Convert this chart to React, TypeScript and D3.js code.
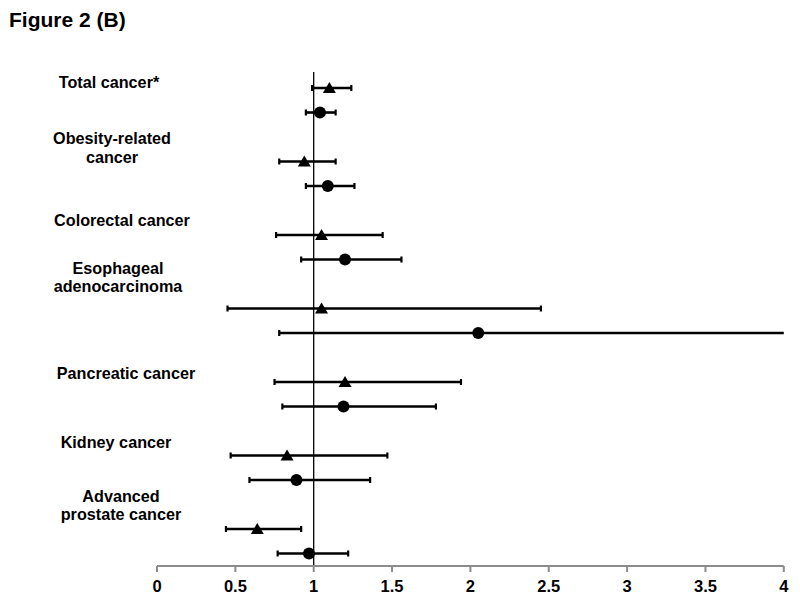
import React from "react";
import * as d3 from "d3";

// ---- data ----
const categories = [
  "Total cancer*",
  "Obesity-related cancer",
  "Colorectal cancer",
  "Esophageal adenocarcinoma",
  "Pancreatic cancer",
  "Kidney cancer",
  "Advanced prostate cancer",
];
const categoryLines = [
  ["Total cancer*"],
  ["Obesity-related", "cancer"],
  ["Colorectal cancer"],
  ["Esophageal", "adenocarcinoma"],
  ["Pancreatic cancer"],
  ["Kidney cancer"],
  ["Advanced", "prostate cancer"],
];
// triangle series
const triEst = [1.1, 0.94, 1.05, 1.05, 1.2, 0.83, 0.64];
const triLow = [0.99, 0.78, 0.76, 0.45, 0.75, 0.47, 0.44];
const triHigh = [1.24, 1.14, 1.44, 2.45, 1.94, 1.47, 0.92];
// circle series
const cirEst = [1.04, 1.09, 1.2, 2.05, 1.19, 0.89, 0.97];
const cirLow = [0.95, 0.95, 0.92, 0.78, 0.8, 0.59, 0.77];
const cirHigh = [1.14, 1.26, 1.56, 5.4, 1.78, 1.36, 1.22];

const xTicks = [0, 0.5, 1, 1.5, 2, 2.5, 3, 3.5, 4];
const xTickLabels = ["0", "0.5", "1", "1.5", "2", "2.5", "3", "3.5", "4"];
const title = "Figure 2 (B)";

// ---- layout (label placement relative to group's first row) ----
const labelCenterX = [109, 112, 122, 118, 126, 116, 121];
const labelFirstOffset = [-0.5, -17.5, -9, -35, -3, -8, -27.5];
const lineGap = 18.8;

export default function App() {
  const W = 800;
  const H = 601;
  const x = d3.scaleLinear().domain([0, 4]).range([157, 783.8]);
  const y = d3.scaleLinear().domain([0, 19]).range([88, 553.5]);
  const axisY = 566;
  const refTop = 72;
  const font = "'Liberation Sans', Arial, sans-serif";

  type Row = { est: number; lo: number; hi: number; shape: "tri" | "cir"; yi: number };
  const rows: Row[] = [];
  categories.forEach((_, i) => {
    rows.push({ est: triEst[i], lo: triLow[i], hi: triHigh[i], shape: "tri", yi: i * 3 });
    rows.push({ est: cirEst[i], lo: cirLow[i], hi: cirHigh[i], shape: "cir", yi: i * 3 + 1 });
  });

  const [d0, d1] = x.domain();
  const clamp = (v: number) => Math.max(d0, Math.min(d1, v));

  return (
    <svg
      width={W}
      height={H}
      style={{ position: "absolute", left: 0, top: 0, background: "#fff" }}
      fontFamily={font}
    >
      <rect width={W} height={H} fill="#fff" />
      <text x={9} y={27} fontSize={21} fontWeight="bold" fill="#000">
        {title}
      </text>

      {/* category labels */}
      {categoryLines.map((lines, i) => (
        <text
          key={i}
          textAnchor="middle"
          fontSize={16.2}
          fontWeight="bold"
          fill="#000"
        >
          {lines.map((ln, j) => (
            <tspan key={j} x={labelCenterX[i]} y={y(i * 3) + labelFirstOffset[i] + j * lineGap}>
              {ln}
            </tspan>
          ))}
        </text>
      ))}

      {/* reference line at 1 */}
      <line x1={x(1)} x2={x(1)} y1={refTop} y2={axisY} stroke="#000" strokeWidth={1.3} />

      {/* error bars & markers */}
      {rows.map((r, i) => {
        const yy = y(r.yi);
        const xl = x(clamp(r.lo));
        const xh = x(clamp(r.hi));
        const xe = x(r.est);
        return (
          <g key={i}>
            <line x1={xl} x2={xh} y1={yy} y2={yy} stroke="#000" strokeWidth={2.6} />
            {r.lo >= d0 && (
              <line x1={xl} x2={xl} y1={yy - 3} y2={yy + 3} stroke="#000" strokeWidth={2.2} />
            )}
            {r.hi <= d1 && (
              <line x1={xh} x2={xh} y1={yy - 3} y2={yy + 3} stroke="#000" strokeWidth={2.2} />
            )}
            {r.shape === "cir" ? (
              <circle cx={xe} cy={yy} r={6} fill="#000" />
            ) : (
              <path
                d={`M${xe},${yy - 6} L${xe + 6.5},${yy + 5} L${xe - 6.5},${yy + 5} Z`}
                fill="#000"
              />
            )}
          </g>
        );
      })}

      {/* x axis */}
      <line x1={x(0)} x2={x(4)} y1={axisY} y2={axisY} stroke="#8c8c8c" strokeWidth={2} />
      {xTicks.map((t, i) => (
        <g key={i}>
          <line x1={x(t)} x2={x(t)} y1={axisY} y2={axisY + 6} stroke="#8c8c8c" strokeWidth={2} />
          <text
            x={x(t)}
            y={axisY + 26}
            textAnchor="middle"
            fontSize={16.5}
            fontWeight="bold"
            fill="#000"
          >
            {xTickLabels[i]}
          </text>
        </g>
      ))}
    </svg>
  );
}
